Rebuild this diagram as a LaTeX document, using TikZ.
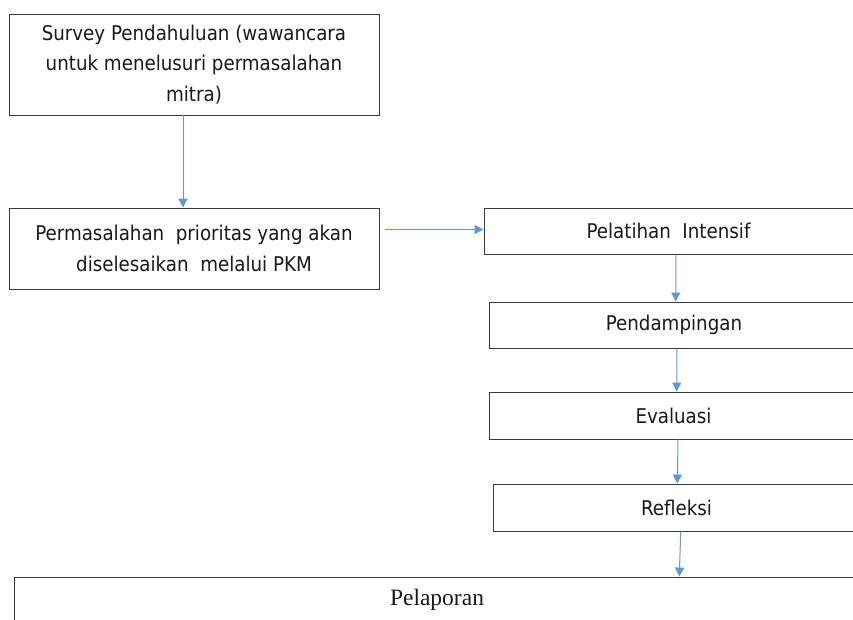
\documentclass[tikz,border=0pt]{standalone}
\usepackage{fontspec}
\setmainfont{Liberation Serif}
\newfontfamily\boxfont{DejaVu Sans Condensed}
\usetikzlibrary{arrows.meta}
\definecolor{arrowblue}{HTML}{5B9BD5}
\definecolor{boxline}{HTML}{3A3A3A}
\begin{document}
\begin{tikzpicture}[
    x=1pt, y=-1pt,
    every node/.style={font=\boxfont\fontsize{20.3}{30.5}\selectfont, align=center, text=black!90},
    box/.style={rectangle, draw=boxline, line width=0.9pt, inner sep=0pt},
    arr/.style={-{Triangle[width=9pt,length=9pt]}, arrowblue, line width=1pt}
]
\useasboundingbox (0,0) rectangle (853,619);
\clip (0,0) rectangle (853,619);
\node[box, minimum width=370pt, minimum height=101pt] (survey) at (194, 64.5) {Survey Pendahuluan (wawancara\\untuk menelusuri permasalahan\\mitra)};
\node[box, minimum width=370pt, minimum height=81pt] (prioritas) at (194, 248.5) {Permasalahan \ prioritas yang akan\\diselesaikan \ melalui PKM};
\node[box, minimum width=369pt, minimum height=46pt] (pelatihan) at (668.5, 231) {Pelatihan \ Intensif};
\node[box, minimum width=370pt, minimum height=46pt] (pendampingan) at (674, 325) {Pendampingan};
\node[box, minimum width=369pt, minimum height=47pt] (evaluasi) at (673.5, 415.5) {Evaluasi};
\node[box, minimum width=367pt, minimum height=47pt] (refleksi) at (676.5, 507.5) {Refleksi};
\node[box, minimum width=846pt, minimum height=46pt, font=\rmfamily\fontsize{23.5}{28}\selectfont] (pelaporan) at (437, 600) {Pelaporan};
\draw[arr] ([xshift=-11pt]survey.south) -- ([xshift=-11pt]prioritas.north);
\draw[arr] ([shift={(6pt,19pt)}]prioritas.east) -- ([yshift=1.5pt]pelatihan.west);
\draw[arr] ([xshift=7.5pt]pelatihan.south) -- ([xshift=1.7pt]pendampingan.north);
\draw[arr] ([xshift=3pt]pendampingan.south) -- ([xshift=3.2pt]evaluasi.north);
\draw[arr] ([xshift=4.5pt]evaluasi.south) -- ([xshift=0.8pt]refleksi.north);
\draw[arr] ([xshift=4.2pt]refleksi.south) -- ([xshift=242.3pt]pelaporan.north);
\end{tikzpicture}
\end{document}
